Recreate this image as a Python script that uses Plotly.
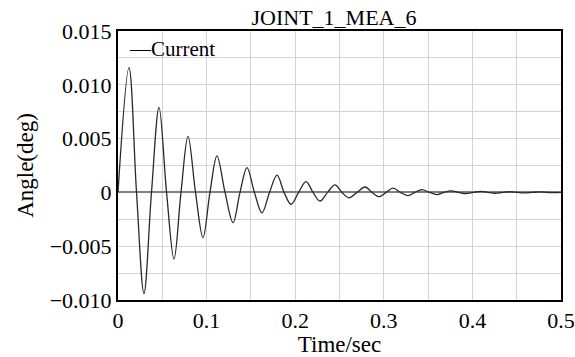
import plotly.graph_objects as go

# Time samples (s): start, then alternating extremum / zero crossing
time_s = [0, 0.0124, 0.0209, 0.0293, 0.0378, 0.0463, 0.0548, 0.0632, 0.0711, 0.0790,
          0.0875, 0.0959, 0.1038, 0.1117, 0.1208, 0.1298, 0.1377, 0.1456, 0.1540, 0.1625,
          0.1710, 0.1795, 0.1874, 0.1953, 0.2038, 0.2122, 0.2201, 0.2280, 0.2365, 0.2449,
          0.2528, 0.2607, 0.2698, 0.2788, 0.2867, 0.2946, 0.3025, 0.3104, 0.3189, 0.3273,
          0.3352, 0.3431, 0.3516, 0.3600, 0.3679, 0.3758, 0.3843, 0.3928, 0.4012, 0.4097,
          0.4176, 0.4255, 0.4340, 0.4424, 0.4509, 0.4594, 0.4673, 0.4752, 0.4837, 0.4921, 0.5]
angle_deg = [0, 0.0116, 0, -0.0094, 0, 0.0079, 0, -0.0062, 0, 0.0052,
             0, -0.0042, 0, 0.0034, 0, -0.0028, 0, 0.0023, 0, -0.0019,
             0, 0.0016, 0, -0.0011, 0, 0.0010, 0, -0.0008, 0, 0.0007,
             0, -0.0005, 0, 0.0005, 0, -0.0004, 0, 0.0004, 0, -0.0003,
             0, 0.00025, 0, -0.0002, 0, 0.00015, 0, -0.00012, 0, 0.0001,
             0, -0.00008, 0, 0.00006, 0, -0.00005, 0, 0.00004, 0, -0.00003, 0]

x_ticks = [0, 0.1, 0.2, 0.3, 0.4, 0.5]
x_labels = ["0", "0.1", "0.2", "0.3", "0.4", "0.5"]
y_ticks = [0.015, 0.010, 0.005, 0, -0.005, -0.010]
y_labels = ["0.015", "0.010", "0.005", "0", "\u22120.005", "\u22120.010"]

FONT = "'Liberation Serif', 'Times New Roman', serif"

fig = go.Figure()
fig.add_trace(go.Scatter(x=time_s, y=angle_deg, mode="lines", name="Current",
                         line=dict(color="#2a2a2a", width=1.3, shape="spline", smoothing=1.0),
                         showlegend=False))

fig.add_annotation(text="\u2014Current", xref="paper", yref="paper", x=0.02, y=0.985,
                   xanchor="left", yanchor="top", showarrow=False,
                   font=dict(family=FONT, size=21, color="black"))

fig.update_layout(
    width=575, height=357,
    margin=dict(l=118, r=14, t=31, b=57, autoexpand=False),
    paper_bgcolor="white", plot_bgcolor="white",
    font=dict(family=FONT, color="black"),
    title=dict(text="JOINT_1_MEA_6", x=334 / 575, xanchor="center",
               y=1 - 17 / 357, yanchor="middle", font=dict(family=FONT, size=22, color="black")),
)
fig.update_xaxes(range=[0, 0.5], tickvals=x_ticks, ticktext=x_labels, automargin=False,
                 tickfont=dict(family=FONT, size=22), ticks="",
                 showline=True, linecolor="black", linewidth=2, mirror=True,
                 showgrid=True, gridcolor="#d3d3d3", gridwidth=1,
                 minor=dict(dtick=0.05, tick0=0, showgrid=True, gridcolor="#d3d3d3", gridwidth=1),
                 zeroline=False,
                 title=dict(text="Time/sec", font=dict(family=FONT, size=23), standoff=2))
fig.update_yaxes(range=[-0.010, 0.015], tickvals=y_ticks, ticktext=y_labels, automargin=False,
                 tickfont=dict(family=FONT, size=22), ticks="",
                 showline=True, linecolor="black", linewidth=2, mirror=True,
                 showgrid=True, gridcolor="#d3d3d3", gridwidth=1,
                 minor=dict(dtick=0.0025, tick0=0, showgrid=True, gridcolor="#d3d3d3", gridwidth=1),
                 zeroline=True, zerolinecolor="#808080", zerolinewidth=1.5,
                 title=dict(text="Angle(deg)", font=dict(family=FONT, size=23), standoff=10))

fig.write_html("out.html")
